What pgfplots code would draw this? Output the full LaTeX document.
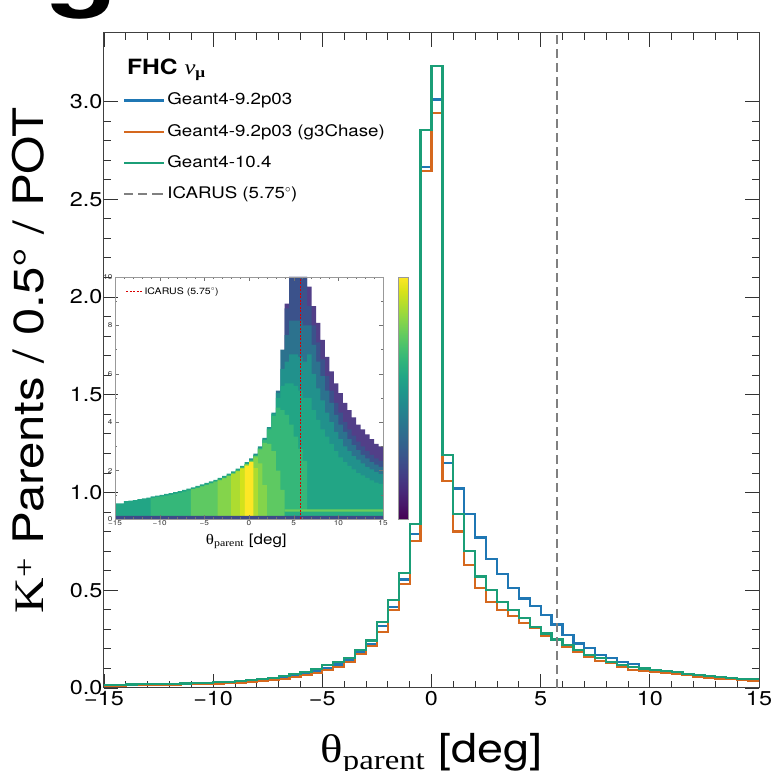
\documentclass[border=0pt]{standalone}
\usepackage{fontspec}
\setmainfont{TeX Gyre Heros}[FakeStretch=1.17]
\newfontfamily\serif{Liberation Serif}[FakeStretch=1.17]
\usepackage{pgfplots}
\pgfplotsset{compat=1.18}
\usepackage{pgfplotstable}

\definecolor{cblue}{RGB}{31,119,180}
\definecolor{corange}{RGB}{213,104,30}
\definecolor{cgreen}{RGB}{27,158,119}
\definecolor{cicarus}{RGB}{128,128,128}
\definecolor{vA}{HTML}{523F88}
\definecolor{vB}{HTML}{3B528B}
\definecolor{vC}{HTML}{2C728E}
\definecolor{vD}{HTML}{21918C}
\definecolor{vE}{HTML}{22A585}
\definecolor{vF}{HTML}{35B779}
\definecolor{vG}{HTML}{5EC962}
\definecolor{vH}{HTML}{84D44B}
\definecolor{vI}{HTML}{ADDC30}
\definecolor{vN}{HTML}{D2E21B}
\definecolor{vJ}{HTML}{FDE725}
\definecolor{vK}{HTML}{6CCD5A}
\definecolor{vL}{HTML}{27AD81}
\definecolor{vM}{HTML}{3E4A89}

% histogram: left bin edge, values in units of 1e-7
\pgfplotstableread{
x     blue   orange green
-15.0 0.015 0.012 0.016
-14.5 0.016 0.013 0.017
-14.0 0.017 0.014 0.018
-13.5 0.018 0.015 0.019
-13.0 0.019 0.016 0.020
-12.5 0.020 0.017 0.021
-12.0 0.021 0.018 0.022
-11.5 0.022 0.019 0.023
-11.0 0.023 0.020 0.025
-10.5 0.025 0.021 0.027
-10.0 0.027 0.023 0.029
-9.5  0.029 0.025 0.032
-9.0  0.032 0.027 0.035
-8.5  0.035 0.030 0.039
-8.0  0.040 0.035 0.044
-7.5  0.048 0.041 0.053
-7.0  0.055 0.048 0.061
-6.5  0.063 0.056 0.070
-6.0  0.075 0.066 0.083
-5.5  0.090 0.078 0.099
-5.0  0.104 0.092 0.116
-4.5  0.120 0.109 0.133
-4.0  0.141 0.133 0.155
-3.5  0.184 0.172 0.194
-3.0  0.226 0.214 0.243
-2.5  0.316 0.287 0.337
-2.0  0.415 0.398 0.449
-1.5  0.555 0.530 0.590
-1.0  0.786 0.750 0.837
-0.5  2.665 2.646 2.855
0.0   3.010 2.940 3.180
0.5   1.150 1.060 1.190
1.0   1.020 0.800 0.890
1.5   0.890 0.630 0.700
2.0   0.770 0.510 0.570
2.5   0.660 0.440 0.500
3.0   0.585 0.400 0.440
3.5   0.510 0.370 0.400
4.0   0.458 0.333 0.356
4.5   0.418 0.305 0.313
5.0   0.372 0.265 0.279
5.5   0.325 0.245 0.248
6.0   0.270 0.211 0.219
6.5   0.228 0.185 0.194
7.0   0.203 0.160 0.168
7.5   0.168 0.138 0.152
8.0   0.152 0.126 0.134
8.5   0.134 0.110 0.117
9.0   0.121 0.092 0.106
9.5   0.100 0.088 0.100
10.0  0.094 0.084 0.094
10.5  0.086 0.077 0.087
11.0  0.078 0.071 0.080
11.5  0.071 0.065 0.073
12.0  0.065 0.059 0.067
12.5  0.059 0.054 0.061
13.0  0.054 0.049 0.056
13.5  0.049 0.045 0.051
14.0  0.045 0.041 0.047
14.5  0.042 0.038 0.044
15.0  0.042 0.038 0.044
}\histtab

% inset: colour layers (heights in inset y units) per 0.5 deg column
\pgfplotstableread{
x     A    B    C    D    E    F    G    H    I    N    J    K    L    M
-15.0 0    0    0    0    0.65 0    0    0    0    0    0    0    0    0.13
-14.5 0    0    0    0    0.65 0    0    0    0    0    0    0    0    0.13
-14.0 0    0    0    0    0.74 0    0    0    0    0    0    0    0    0.13
-13.5 0    0    0    0    0.76 0    0    0    0    0    0    0    0    0.13
-13.0 0    0    0    0    0.78 0    0    0    0    0    0    0    0    0.13
-12.5 0    0    0    0    0.82 0    0    0    0    0    0    0    0    0.13
-12.0 0    0    0    0    0.85 0    0    0    0    0    0    0    0    0.13
-11.5 0    0    0    0    0.88 0    0    0    0    0    0    0    0    0.13
-11.0 0    0    0    0    0.93 0.86 0    0    0    0    0    0    0    0.13
-10.5 0    0    0    0    0.97 0.90 0    0    0    0    0    0    0    0.13
-10.0 0    0    0    0    1.00 0.93 0    0    0    0    0    0    0    0.13
-9.5  0    0    0    0    1.04 0.97 0    0    0    0    0    0    0    0.13
-9.0  0    0    0    0    1.07 1.00 0    0    0    0    0    0    0    0.13
-8.5  0    0    0    0    1.11 1.04 0    0    0    0    0    0    0    0.13
-8.0  0    0    0    0    1.15 1.08 0    0    0    0    0    0    0    0.13
-7.5  0    0    0    0    1.20 1.13 0    0    0    0    0    0    0    0.13
-7.0  0    0    0    0    1.25 1.18 0    0    0    0    0    0    0    0.13
-6.5  0    0    0    0    1.31 1.24 1.23 0    0    0    0    0    0    0.13
-6.0  0    0    0    0    1.37 1.30 1.29 0    0    0    0    0    0    0.13
-5.5  0    0    0    0    1.43 1.36 1.35 0    0    0    0    0    0    0.13
-5.0  0    0    0    0    1.49 1.42 1.41 0    0    0    0    0    0    0.13
-4.5  0    0    0    0    1.55 1.48 1.47 0    0    0    0    0    0    0.13
-4.0  0    0    0    0    1.62 1.55 1.54 0    0    0    0    0    0    0.13
-3.5  0    0    0    0    1.70 1.63 1.62 1.60 0    0    0    0    0    0.13
-3.0  0    0    0    0    1.78 1.71 1.70 1.68 0    0    0    0    0    0.13
-2.5  0    0    0    0    1.87 1.80 1.79 1.77 0    0    0    0    0    0.13
-2.0  0    0    0    0    1.97 1.90 1.89 1.87 1.86 0    0    0    0    0.13
-1.5  0    0    0    0    2.08 2.01 2.00 1.98 1.97 0    0    0    0    0.13
-1.0  0    0    0    0    2.20 2.13 2.12 2.10 2.09 2.08 0    0    0    0.13
-0.5  0    0    0    0    2.35 2.28 2.27 2.25 2.24 0    2.20 0    0    0.13
0.0   0    0    0    2.50 2.45 2.42 2.40 2.38 2.36 0    2.35 0    0    0.13
0.5   0    0    0    2.70 2.64 2.62 2.60 2.55 2.10 0    0    0    0    0.13
1.0   0    0    0    3.00 2.94 2.92 2.88 2.30 0    0    0    0    0    0.13
1.5   0    0    0    3.35 3.29 3.26 3.15 1.40 0    0    0    0    0    0.13
2.0   0    0    0    3.80 3.74 3.70 3.10 0    0    0    0    0    0    0.13
2.5   0    0    0    4.40 4.33 4.25 2.80 0    0    0    0    0    0    0.13
3.0   0    0    5.30 5.20 5.00 4.60 2.00 0    0    0    0    0    0    0.13
3.5   0    0    7.00 6.20 5.50 4.50 1.20 0    0    0    0    0    0    0.13
4.0   8.90 8.70 7.60 6.50 5.60 4.30 0    0    0    0    0    0.40 0.30 0.13
4.5   10   10   8.20 6.80 5.60 3.90 0    0    0    0    0    0.40 0.30 0.13
5.0   10   10   8.20 6.80 5.50 3.40 0    0    0    0    0    0.40 0.30 0.13
5.5   10   10   8.20 6.70 5.30 2.90 0    0    0    0    0    0.40 0.30 0.13
6.0   10   10   8.00 6.50 5.00 2.40 0    0    0    0    0    0.40 0.30 0.13
6.5   9.60 8.80 8.00 6.80 5.00 0    0    0    0    0    0    0.40 0.30 0.13
7.0   8.80 8.00 7.20 6.00 4.50 0    0    0    0    0    0    0.40 0.30 0.13
7.5   8.10 7.30 6.50 5.40 4.10 0    0    0    0    0    0    0.40 0.30 0.13
8.0   7.40 6.60 5.90 4.90 3.70 0    0    0    0    0    0    0.40 0.30 0.13
8.5   6.70 5.90 5.30 4.40 3.40 0    0    0    0    0    0    0.40 0.30 0.13
9.0   6.10 5.30 4.80 4.00 3.10 0    0    0    0    0    0    0.40 0.30 0.13
9.5   5.60 4.80 4.30 3.60 2.80 0    0    0    0    0    0    0.40 0.30 0.13
10.0  5.20 4.40 3.90 3.30 2.55 0    0    0    0    0    0    0.40 0.30 0.13
10.5  4.80 4.00 3.60 3.00 2.35 0    0    0    0    0    0    0.40 0.30 0.13
11.0  4.50 3.70 3.30 2.80 2.20 0    0    0    0    0    0    0.40 0.30 0.13
11.5  4.20 3.45 3.05 2.60 2.05 0    0    0    0    0    0    0.40 0.30 0.13
12.0  3.90 3.20 2.85 2.45 1.90 0    0    0    0    0    0    0.40 0.30 0.13
12.5  3.70 3.00 2.65 2.30 1.80 0    0    0    0    0    0    0.40 0.30 0.13
13.0  3.50 2.80 2.50 2.15 1.70 0    0    0    0    0    0    0.40 0.30 0.13
13.5  3.30 2.65 2.35 2.05 1.60 0    0    0    0    0    0    0.40 0.30 0.13
14.0  3.10 2.50 2.25 1.95 1.50 0    0    0    0    0    0    0.40 0.30 0.13
14.5  3.00 2.40 2.15 1.85 1.45 0    0    0    0    0    0    0.40 0.30 0.13
15.0  3.00 2.40 2.15 1.85 1.45 0    0    0    0    0    0    0.40 0.30 0.13
}\insettab

\begin{document}
\begin{tikzpicture}
\useasboundingbox (-104pt,-83pt) rectangle (670pt,688pt);
\node[anchor=base west, inner sep=0pt, font=\fontsize{100}{100}\selectfont\bfseries] at (-58pt,690pt) {g};
\begin{axis}[
  at={(0pt,0pt)}, anchor=south west,
  width=655pt, height=655pt, scale only axis,
  xmin=-15, xmax=15, ymin=0, ymax=3.35,
  xtick={-15,-10,...,15},
  xticklabels={−15,−10,−5,0,5,10,15},
  minor x tick num=4,
  ytick={0,0.5,...,3.0},
  minor y tick num=4,
  /pgf/number format/assume math mode=true,
  yticklabel style={/pgf/number format/fixed, /pgf/number format/fixed zerofill, /pgf/number format/precision=1, xshift=2pt},
  tick label style={font=\fontsize{20}{24}\selectfont},
  tick align=inside, tick pos=both,
  major tick length=14pt, minor tick length=7pt,
  tick style={black!80, line width=0.8pt},
  axis line style={black!75, line width=1pt},
  xlabel={{\serif θ\textsubscript{parent}} [deg]},
  xlabel style={font=\fontsize{40}{44}\selectfont, at={(axis description cs:0.5,-0.113)}, anchor=base},
  ylabel={{\serif K\textsuperscript{+}} Parents / 0.5° / POT},
  ylabel style={font=\fontsize{42}{46}\selectfont, at={(axis description cs:-0.093,0.5)}, anchor=base, rotate=0},
  legend style={at={(rel axis cs:0.029,0.912)}, anchor=north west, draw=none, fill=none,
    font=\fontsize{16}{19}\selectfont, row sep=11.7pt, inner sep=0pt,
    nodes={inner sep=2pt, text height=12pt, text depth=3.5pt}},
  legend cell align=left,
  legend image code/.code={\draw[#1] (0pt,0pt) -- (30pt,0pt); \path (30pt,0pt) -- (40pt,0pt);},
]
\addplot[cblue, const plot, line width=2.2pt] table[x=x, y=blue] {\histtab};
\addlegendentry{Geant4-9.2p03}
\addplot[corange, const plot, line width=2.2pt] table[x=x, y=orange] {\histtab};
\addlegendentry{Geant4-9.2p03 (g3Chase)}
\addplot[cgreen, const plot, line width=2.2pt] table[x=x, y=green] {\histtab};
\addlegendentry{Geant4-10.4}
\addplot[cicarus, line width=2pt, dash pattern=on 9pt off 5pt] coordinates {(5.75,0) (5.75,3.35)};
\addlegendentry{ICARUS (5.75$^{\circ}$)}
\node[anchor=west, font=\fontsize{21}{24}\selectfont] at (rel axis cs:0.03,0.9435)
  {\bfseries FHC {\serif\mdseries\itshape ν}\textsubscript{\serif μ}};
\node[anchor=base west, font=\fontsize{18}{20}\selectfont] at (rel axis cs:0.003,1.009)
  {×10\textsuperscript{−7}};
\end{axis}

\begin{axis}[
  at={(11pt,169pt)}, anchor=south west,
  width=268pt, height=242pt, scale only axis,
  xmin=-15, xmax=15, ymin=0, ymax=10,
  xtick={-15,-10,...,15},
  xticklabels={−15,−10,−5,0,5,10,15},
  minor x tick num=4,
  ytick={0,2,...,10},
  minor y tick num=1,
  /pgf/number format/assume math mode=true,
  tick label style={font=\fontsize{7}{8}\selectfont, text=black!80},
  xticklabel style={yshift=1.5pt},
  yticklabel style={xshift=1pt},
  tick align=inside, tick pos=both,
  major tick length=4pt, minor tick length=2pt,
  tick style={black!55, line width=0.3pt},
  axis line style={black!40, line width=0.5pt},
  axis on top,
  xlabel={{\serif θ\textsubscript{parent}} [deg]},
  xlabel style={font=\fontsize{14.5}{16}\selectfont, at={(axis description cs:0.49,-0.091)}, anchor=center},
  colorbar, colormap/viridis, point meta min=0, point meta max=1,
  colorbar style={at={(parent axis.south east)}, anchor=south west, xshift=7pt,
    width=10pt, height=242pt, scale only axis, ytick=\empty,
    axis line style={black!40, line width=0.5pt}},
  legend style={at={(rel axis cs:0.04,0.965)}, anchor=north west, draw=none, fill=none,
    font=\fontsize{9}{10}\selectfont, inner sep=0pt},
  legend image code/.code={\draw[#1] (0pt,0pt) -- (16pt,0pt);},
]
\addplot[const plot, fill=vA, draw=none, forget plot] table[x=x, y=A] {\insettab} \closedcycle;
\addplot[const plot, fill=vB, draw=none, forget plot] table[x=x, y=B] {\insettab} \closedcycle;
\addplot[const plot, fill=vC, draw=none, forget plot] table[x=x, y=C] {\insettab} \closedcycle;
\addplot[const plot, fill=vD, draw=none, forget plot] table[x=x, y=D] {\insettab} \closedcycle;
\addplot[const plot, fill=vE, draw=none, forget plot] table[x=x, y=E] {\insettab} \closedcycle;
\addplot[const plot, fill=vF, draw=none, forget plot] table[x=x, y=F] {\insettab} \closedcycle;
\addplot[const plot, fill=vG, draw=none, forget plot] table[x=x, y=G] {\insettab} \closedcycle;
\addplot[const plot, fill=vH, draw=none, forget plot] table[x=x, y=H] {\insettab} \closedcycle;
\addplot[const plot, fill=vI, draw=none, forget plot] table[x=x, y=I] {\insettab} \closedcycle;
\addplot[const plot, fill=vN, draw=none, forget plot] table[x=x, y=N] {\insettab} \closedcycle;
\addplot[const plot, fill=vJ, draw=none, forget plot] table[x=x, y=J] {\insettab} \closedcycle;
\addplot[const plot, fill=vK, draw=none, forget plot] table[x=x, y=K] {\insettab} \closedcycle;
\addplot[const plot, fill=vL, draw=none, forget plot] table[x=x, y=L] {\insettab} \closedcycle;
\addplot[const plot, fill=vM, draw=none, forget plot] table[x=x, y=M] {\insettab} \closedcycle;
\addplot[red!85!black, line width=0.6pt, dash pattern=on 2pt off 1.5pt] coordinates {(5.75,0) (5.75,10)};
\addlegendentry{ICARUS (5.75$^{\circ}$)}
\node[anchor=base west, font=\fontsize{9}{10}\selectfont] at (rel axis cs:0,1.025)
  {\bfseries FHC \mdseries{\serif K\textsuperscript{+} →} {\serif\itshape ν}\textsubscript{\serif μ}};
\node[anchor=base east, font=\fontsize{9}{10}\selectfont, text=black!45] at (rel axis cs:1,1.025)
  {Geant4-10.4};
\end{axis}
\end{tikzpicture}
\end{document}
